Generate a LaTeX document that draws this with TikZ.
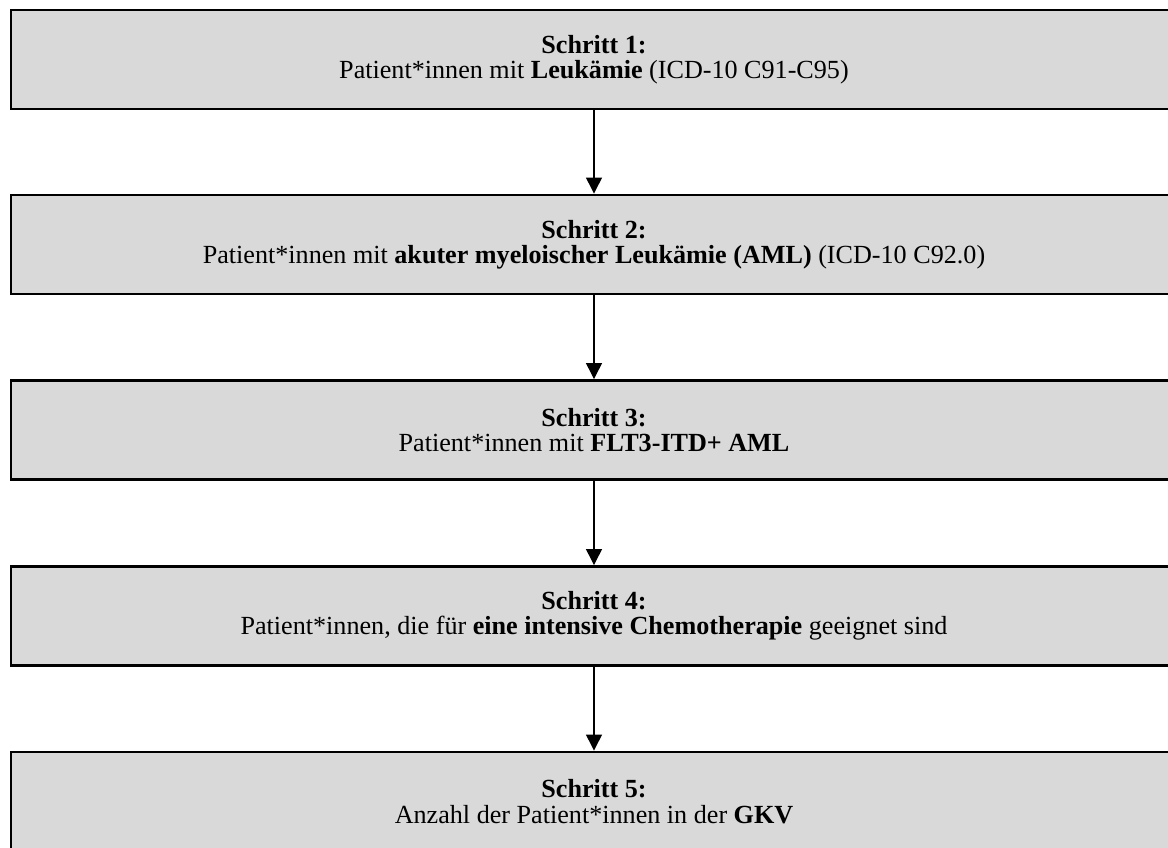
\documentclass[tikz,border=0pt]{standalone}
\usepackage{fontspec}
\setmainfont{Liberation Serif}
\usetikzlibrary{arrows.meta}
\tikzset{
	schrittbox/.style={draw=black,line width=2.2pt,fill={rgb,255:red,217;green,217;blue,217},minimum width=1166*0.75pt,minimum height=99*0.75pt,inner sep=0pt,align=center,font=\fontsize{19.6pt}{19pt}\selectfont},
	pfeil/.style={line width=1pt,-{Triangle[length=12pt,width=12pt]}}
}

\begin{document}
\begin{tikzpicture}[x=0.75pt,y=0.75pt,yscale=-1,xscale=1]
		\useasboundingbox (0,0) rectangle (1168,847);
		\node [schrittbox] (s1) at (594,59.5) {\textbf{Schritt 1:}\\Patient*innen mit \textbf{Leukämie} (ICD-10 C91-C95)};
		\node [schrittbox] (s2) at (594,244.5) {\textbf{Schritt 2:}\\Patient*innen mit \textbf{akuter myeloischer Leukämie (AML)} (ICD-10 C92.0)};
		\node [schrittbox] (s3) at (594,430) {\textbf{Schritt 3:}\\Patient*innen mit \textbf{FLT3-ITD+ AML}};
		\node [schrittbox] (s4) at (594,616) {\textbf{Schritt 4:}\\Patient*innen, die für \textbf{eine intensive Chemotherapie} geeignet sind};
		\node [schrittbox] (s5) at (594,801.5) {\textbf{Schritt 5:}\\Anzahl der Patient*innen in der \textbf{GKV}};

		\draw [pfeil] (s1) -- (s2);
		\draw [pfeil] (s2) -- (s3);
		\draw [pfeil] (s3) -- (s4);
		\draw [pfeil] (s4) -- (s5);
	\end{tikzpicture}
\end{document}
